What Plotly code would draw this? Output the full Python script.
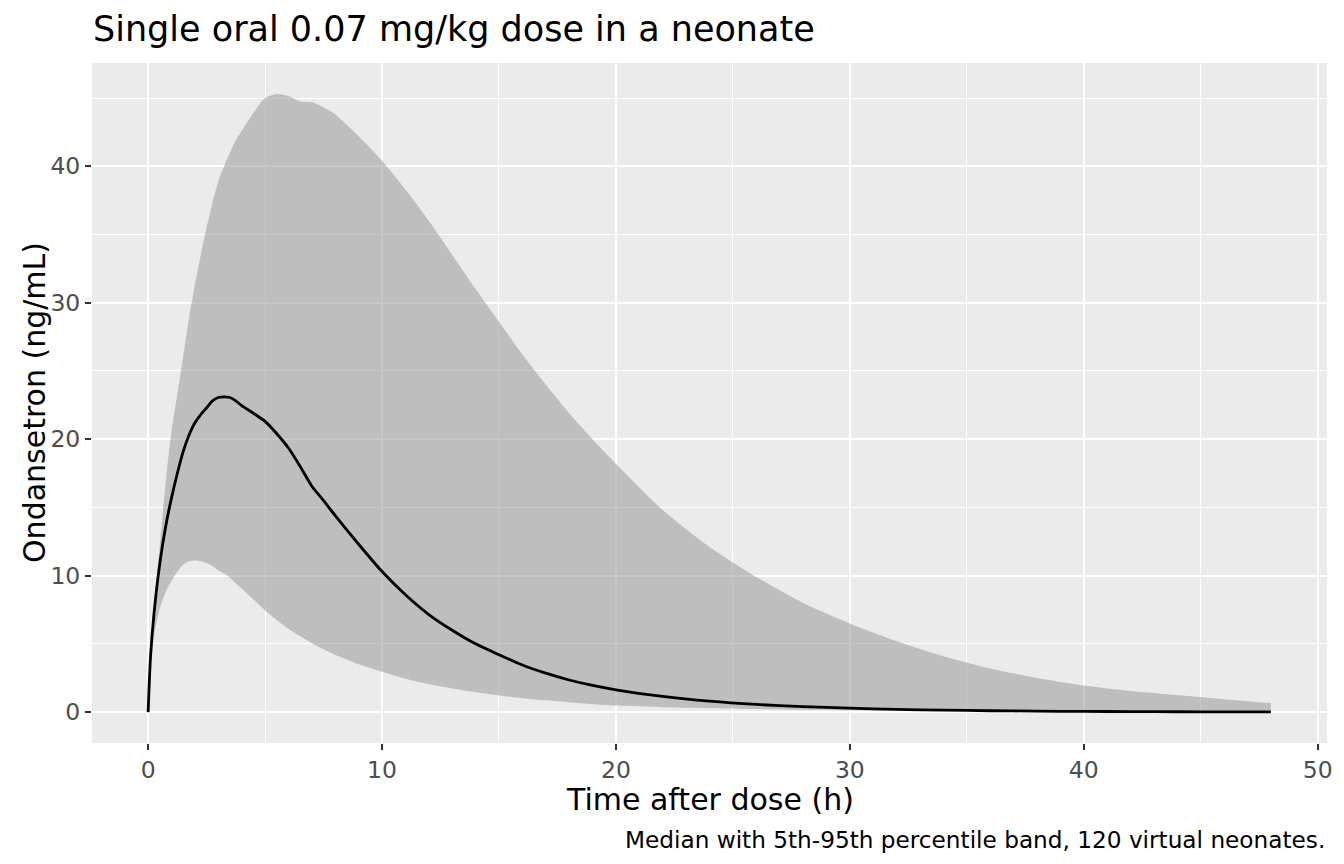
import plotly.graph_objects as go

# Time after dose (h)
time_h = [0, 0.1, 0.25, 0.5, 0.75, 1, 1.25, 1.5, 1.75, 2, 2.25, 2.5, 2.75, 3, 3.25, 3.5, 3.75, 4,
          4.5, 5, 5.5, 6, 6.5, 7, 7.5, 8, 9, 10, 11, 12, 13, 14, 15, 16, 17, 18, 19, 20,
          22, 24, 26, 28, 30, 32, 34, 36, 38, 40, 42, 44, 46, 48]

# Median concentration (ng/mL)
median_conc = [0, 4.0, 7.2, 10.9, 13.6, 15.7, 17.5, 19.1, 20.3, 21.2, 21.8, 22.3, 22.8, 23.05, 23.1, 23.05, 22.8, 22.45,
               21.9, 21.3, 20.4, 19.35, 18.0, 16.55, 15.5, 14.4, 12.3, 10.3, 8.6, 7.15, 6.0, 5.0, 4.2, 3.45, 2.85, 2.35, 1.95, 1.63,
               1.15, 0.8, 0.56, 0.4, 0.29, 0.2, 0.14, 0.1, 0.07, 0.05, 0.035, 0.025, 0.018, 0.013]

# 95th percentile (ng/mL)
p95_conc = [0, 4.2, 7.6, 12.2, 16.8, 20.6, 23.3, 26.1, 28.9, 31.3, 33.5, 35.5, 37.3, 38.9, 40.0, 41.0, 41.9, 42.6,
            43.9, 45.0, 45.3, 45.15, 44.75, 44.7, 44.3, 43.8, 42.2, 40.4, 38.3, 36.0, 33.5, 31.0, 28.6, 26.2, 24.0, 21.9, 20.0, 18.2,
            14.8, 12.1, 9.9, 8.0, 6.5, 5.2, 4.1, 3.2, 2.5, 1.95, 1.55, 1.25, 0.95, 0.66]

# 5th percentile (ng/mL)
p5_conc = [0, 3.6, 5.6, 7.6, 8.8, 9.6, 10.3, 10.8, 11.05, 11.1, 11.05, 10.9, 10.7, 10.4, 10.15, 9.85, 9.45, 9.05,
           8.25, 7.45, 6.75, 6.1, 5.55, 5.05, 4.6, 4.2, 3.5, 2.95, 2.45, 2.05, 1.72, 1.45, 1.22, 1.02, 0.86, 0.72, 0.58, 0.48,
           0.36, 0.28, 0.22, 0.17, 0.13, 0.1, 0.08, 0.06, 0.05, 0.04, 0.03, 0.025, 0.02, 0.015]

x_ticks = [0, 10, 20, 30, 40, 50]
y_ticks = [0, 10, 20, 30, 40]

FONT = "DejaVu Sans"
SMOOTH = 0.7

# the page body has an 8px margin; size the figure so it fits the 1344x864 window
W, H = 1336, 856

fig = go.Figure()
fig.add_trace(go.Scatter(x=time_h, y=p5_conc, mode="lines",
                         line=dict(width=0, color="rgba(0,0,0,0)", shape="spline", smoothing=SMOOTH),
                         showlegend=False, hoverinfo="skip"))
fig.add_trace(go.Scatter(x=time_h, y=p95_conc, mode="lines",
                         line=dict(width=0, color="rgba(0,0,0,0)", shape="spline", smoothing=SMOOTH),
                         fill="tonexty", fillcolor="rgba(145,145,145,0.5)", showlegend=False, hoverinfo="skip"))
fig.add_trace(go.Scatter(x=time_h, y=median_conc, mode="lines",
                         line=dict(width=2.8, color="black", shape="spline", smoothing=SMOOTH),
                         showlegend=False))

xmax = max(time_h)
ymax = max(p95_conc)
fig.update_layout(
    width=W, height=H,
    margin=dict(l=84, r=17, t=55, b=121),
    paper_bgcolor="white", plot_bgcolor="#EBEBEB",
    font=dict(family=FONT, color="black"),
    title=dict(text="Single oral 0.07 mg/kg dose in a neonate", font=dict(size=35, color="black", family=FONT),
               x=85 / W, xanchor="left", xref="container", y=1 - 21 / H, yanchor="middle", yref="container",
               automargin=False),
    xaxis=dict(range=[-0.05 * xmax, 1.05 * xmax], tickvals=x_ticks, ticks="outside", ticklen=6, tickwidth=2,
               tickcolor="#333333", tickfont=dict(size=23.5, color="#4D4D4D", family=FONT),
               showgrid=True, gridcolor="white", gridwidth=2.2, zeroline=False, showline=False, automargin=False,
               minor=dict(dtick=5, tick0=0, showgrid=True, gridcolor="white", gridwidth=1.1, ticks="")),
    yaxis=dict(range=[-0.05 * ymax, 1.05 * ymax], tickvals=y_ticks, ticks="outside", ticklen=6, tickwidth=2,
               tickcolor="#333333", tickfont=dict(size=23.5, color="#4D4D4D", family=FONT),
               showgrid=True, gridcolor="white", gridwidth=2.2, zeroline=False, showline=False, automargin=False,
               minor=dict(dtick=5, tick0=0, showgrid=True, gridcolor="white", gridwidth=1.1, ticks="")),
    annotations=[
        dict(text="Time after dose (h)", xref="paper", yref="paper", x=0.5, y=0, xanchor="center",
             yanchor="middle", yshift=-56, showarrow=False, font=dict(size=30, color="black", family=FONT)),
        dict(text="Ondansetron (ng/mL)", xref="paper", yref="paper", x=0, y=0.5, xanchor="center",
             yanchor="middle", xshift=-58, textangle=-90, showarrow=False,
             font=dict(size=30, color="black", family=FONT)),
        dict(text="Median with 5th-95th percentile band, 120 virtual neonates.", xref="paper", yref="paper",
             x=1, y=0, xanchor="right", yanchor="middle", yshift=-96, showarrow=False,
             font=dict(size=23.2, color="black", family=FONT)),
    ],
)

fig.write_html("out.html")
